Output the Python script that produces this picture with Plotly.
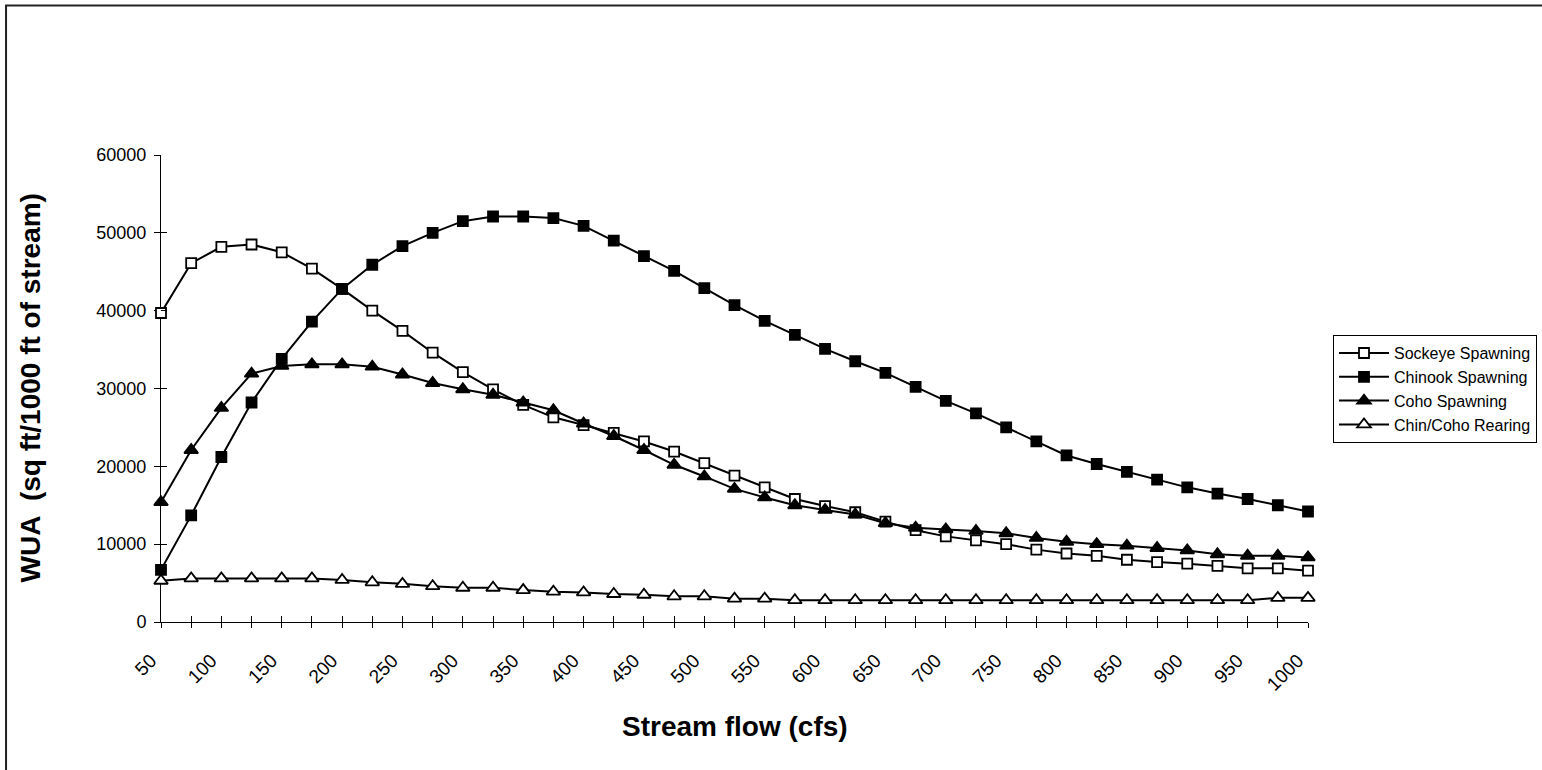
import plotly.graph_objects as go

flow = [50, 75, 100, 125, 150, 175, 200, 225, 250, 275, 300, 325, 350, 375, 400,
        425, 450, 475, 500, 525, 550, 575, 600, 625, 650, 675, 700, 725, 750, 775,
        800, 825, 850, 875, 900, 925, 950, 975, 1000]

sockeye = [39700, 46100, 48200, 48500, 47500, 45400, 42800, 40000, 37400, 34600,
           32100, 29900, 27900, 26300, 25300, 24300, 23200, 21900, 20400, 18800,
           17300, 15800, 14900, 14100, 12900, 11800, 11000, 10500, 10000, 9300,
           8800, 8500, 8000, 7700, 7500, 7200, 6900, 6900, 6600]

chinook = [6700, 13700, 21200, 28200, 33800, 38600, 42800, 45900, 48300, 50000,
           51500, 52100, 52100, 51900, 50900, 49000, 47000, 45100, 42900, 40700,
           38700, 36900, 35100, 33500, 32000, 30200, 28400, 26800, 25000, 23200,
           21400, 20300, 19300, 18300, 17300, 16500, 15800, 15000, 14200]

coho = [15400, 22100, 27500, 31900, 32900, 33100, 33100, 32800, 31800, 30700,
        29900, 29200, 28200, 27200, 25500, 23900, 22100, 20200, 18700, 17100,
        16000, 15000, 14400, 13800, 12700, 12100, 11900, 11700, 11400, 10800,
        10300, 10000, 9800, 9500, 9200, 8700, 8500, 8500, 8300]

rearing = [5300, 5600, 5600, 5600, 5600, 5600, 5400, 5100, 4900, 4600,
           4400, 4400, 4100, 3900, 3800, 3600, 3500, 3300, 3300, 3000,
           3000, 2800, 2800, 2800, 2800, 2800, 2800, 2800, 2800, 2800,
           2800, 2800, 2800, 2800, 2800, 2800, 2800, 3100, 3100]

x_tick_labels = ["50", "", "100", "", "150", "", "200", "", "250", "", "300", "", "350", "",
                 "400", "", "450", "", "500", "", "550", "", "600", "", "650", "", "700", "",
                 "750", "", "800", "", "850", "", "900", "", "950", "", "1000"]

y_ticks = [0, 10000, 20000, 30000, 40000, 50000, 60000]
y_tick_labels = ["0", "10000", "20000", "30000", "40000", "50000", "60000"]

FONT = "Arial, Liberation Sans, sans-serif"

fig = go.Figure()

series = [
    ("Sockeye Spawning", sockeye, "square", "white", 10),
    ("Chinook Spawning", chinook, "square", "black", 10),
    ("Coho Spawning", coho, "triangle-up", "black", 12),
    ("Chin/Coho Rearing", rearing, "triangle-up", "white", 12),
]
for name, vals, sym, fill, size in series:
    fig.add_trace(go.Scatter(
        x=flow, y=vals, name=name, mode="lines+markers",
        line=dict(color="black", width=2),
        marker=dict(symbol=sym, size=size, color=fill, line=dict(color="black", width=1.8)),
        cliponaxis=False,
    ))

# empty trace so the overlay axes (inside half of the crossing tick marks) render
fig.add_trace(go.Scatter(x=[], y=[], xaxis="x2", yaxis="y2", showlegend=False, hoverinfo="skip"))

fig.update_layout(
    width=1542, height=770,
    margin=dict(l=161, r=234, t=155, b=148, autoexpand=False),
    paper_bgcolor="white", plot_bgcolor="white",
    font=dict(family=FONT, color="black", size=18),
    showlegend=True,
    legend=dict(
        x=1.0218, y=0.6143, xanchor="left", yanchor="top",
        bordercolor="black", borderwidth=1, bgcolor="white",
        font=dict(family=FONT, size=16, color="black"),
        itemwidth=50, tracegroupgap=0,
    ),
    xaxis=dict(
        range=[50, 1000], tickmode="array", tickvals=flow, ticktext=x_tick_labels,
        tickangle=-45, ticks="outside", ticklen=5, tickcolor="black", tickwidth=1,
        ticklabelstandoff=14, ticklabelshift=-10,
        showline=True, linecolor="black", linewidth=1, showgrid=False, zeroline=False,
        tickfont=dict(family=FONT, size=19, color="black"), layer="below traces",
    ),
    yaxis=dict(
        range=[0, 60000], tickmode="array", tickvals=y_ticks, ticktext=y_tick_labels,
        ticks="outside", ticklen=6, tickcolor="black", tickwidth=1,
        ticklabelstandoff=4,
        showline=True, linecolor="black", linewidth=1, showgrid=False, zeroline=False,
        tickfont=dict(family=FONT, size=18, color="black"), layer="below traces",
    ),
    xaxis2=dict(
        overlaying="x", anchor="y2", side="bottom", range=[50, 1000],
        tickmode="array", tickvals=flow, ticks="inside", ticklen=6, tickcolor="black",
        tickwidth=1, showticklabels=False, showline=False, showgrid=False, zeroline=False,
    ),
    yaxis2=dict(
        overlaying="y", anchor="x2", side="left", range=[0, 60000],
        tickmode="array", tickvals=y_ticks, ticks="inside", ticklen=6, tickcolor="black",
        tickwidth=1, showticklabels=False, showline=False, showgrid=False, zeroline=False,
    ),
    annotations=[
        dict(text="<b>Stream flow (cfs)</b>", x=0.5, y=-0.2248, xref="paper", yref="paper",
             xanchor="center", yanchor="middle", showarrow=False,
             font=dict(family=FONT, size=28, color="black")),
        dict(text="<b>WUA  (sq ft/1000 ft of stream)</b>", x=-0.1142, y=0.5,
             xref="paper", yref="paper", xanchor="center", yanchor="middle",
             textangle=-90, showarrow=False,
             font=dict(family=FONT, size=28, color="black")),
    ],
    shapes=[
        dict(type="rect", xref="paper", yref="paper",
             x0=-0.1351, x1=1.2197, y0=-0.36, y1=1.3201,
             line=dict(color="#222222", width=2), fillcolor="rgba(0,0,0,0)", layer="below"),
    ],
)

fig.write_html("out.html")
